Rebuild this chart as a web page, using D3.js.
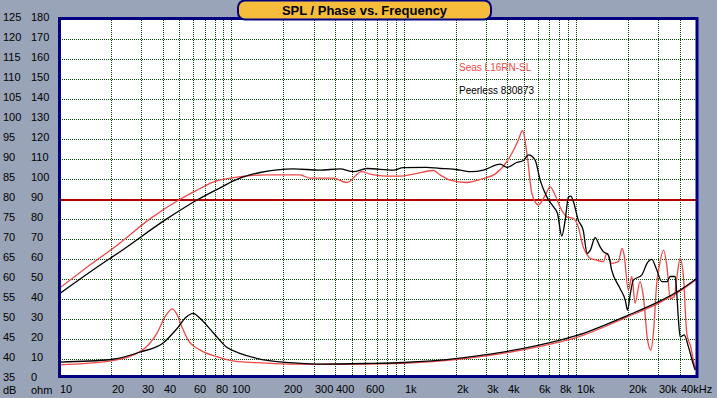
<!DOCTYPE html>
<html>
<head>
<meta charset="utf-8">
<script src="https://cdn.jsdelivr.net/npm/d3@7"></script>
<style>
  html, body { margin: 0; padding: 0; background: #9aa4b9; }
  svg { display: block; font-family: "Liberation Sans", Arial, sans-serif; }
</style>
</head>
<body>
<svg id="chart"></svg>
<script>
const width = 717;
const height = 398;

// left axis labels (dB and ohm share the same rows)
const dbTicks = [125, 120, 115, 110, 105, 100, 95, 90, 85, 80, 75, 70, 65, 60, 55, 50, 45, 40, 35];
const ohmTicks = [180, 170, 160, 150, 140, 130, 120, 110, 100, 90, 80, 70, 60, 50, 40, 30, 20, 10, 0];
const dbGrid = [120, 115, 110, 105, 100, 95, 90, 85, 75, 70, 65, 60, 55, 50, 45, 40];
const refDb = 80;

// bottom axis
const freqGrid = [20, 30, 40, 50, 60, 70, 80, 90, 100, 200, 300, 400, 500, 600, 700, 800, 900,
    1000, 2000, 3000, 4000, 5000, 6000, 7000, 8000, 9000, 10000, 20000, 30000, 40000];
const freqTicks = [10, 20, 30, 40, 60, 80, 100, 200, 300, 400, 600, 1000, 2000, 3000, 4000, 6000, 8000, 10000, 20000, 30000, 40000];
const freqNames = ["10", "20", "30", "40", "60", "80", "100", "200", "300", "400", "600", "1k", "2k", "3k", "4k", "6k", "8k", "10k", "20k", "30k", "40kHz"];

const seriesNames = ["Seas L16RN-SL", "Peerless 830873"];

// SPL, Seas (red)
const seasSplF = [10, 14.2, 22.6, 33.7, 50.4, 65.8, 75.2, 102.7, 160.5, 250, 286, 391, 467, 571, 638, 798, 953, 1137, 1487, 1626, 1857,
    2320, 2900, 3390, 3970, 4630, 4890, 5220, 5540, 6050, 6620, 7080, 7570, 8090, 8850, 9660, 10300, 11000, 11600, 12100, 12600,
    14400, 15100, 16100, 17600, 18500, 19000, 20100, 21100, 22000, 23500, 24600, 26000, 27200, 28100, 29400, 30500, 32200,
    33700, 35200, 37100, 38400, 40200, 42000, 43900, 46300, 48400, 49900];
const seasSpl = [57.7, 62.7, 69.1, 75.1, 80, 82.7, 84, 85.4, 86.1, 86.1, 85.3, 85.3, 84.2, 86.9, 86.3, 85.8, 85.8, 86.3, 87.2, 86.1, 84.8,
    84.2, 85.2, 86.3, 89.4, 94.8, 97.2, 90.6, 81.5, 78.6, 81, 83.1, 81, 78, 75.6, 75.2, 73.1, 68.1, 66.1, 65.2, 65,
    64.4, 66.5, 64, 64.4, 67.7, 66.1, 57.3, 60.7, 54, 59.4, 55.6, 44.8, 42.3, 46.5, 59, 63.6, 67.3,
    63.1, 55.2, 55.6, 60.2, 65.2, 60.7, 46.5, 43.1, 39, 37.3];

// SPL, Peerless (black)
const peerSplF = [10, 16.2, 22.6, 42.2, 64.3, 89.9, 102.7, 128, 147, 229, 327, 427, 511, 611, 871, 995, 1361, 1626, 1857,
    2120, 2480, 2900, 3630, 3970, 4530, 4950, 5290, 5790, 6190, 6770, 7400, 7800, 8270, 8650, 9040, 9330, 9660,
    10300, 11000, 11600, 12100, 12900, 13800, 14400, 15400, 16100, 18000, 19300, 19900, 20600, 21500, 24100, 25800,
    27500, 29200, 31500, 33700, 35200, 37600, 38400, 39300, 40200, 42400, 44900, 48000, 49100];
const peerSpl = [56.3, 62.7, 66.9, 75.1, 80, 83.3, 84.6, 86.1, 86.7, 87.6, 87.3, 87.6, 86.9, 87.7, 87.3, 87.9, 88, 87.7, 87.6,
    87.3, 86.9, 87.3, 88.8, 88, 89.2, 89.7, 91.1, 89.8, 84.8, 80.6, 78.1, 76.5, 70.8, 74.8, 80.6, 80.8, 79.4,
    74.8, 72.3, 66.5, 67.3, 70.4, 68.1, 66.9, 66.1, 62.3, 57.7, 54.8, 52.3, 56.1, 59.8, 61.1, 64,
    65, 62.7, 59.4, 59.4, 60.7, 60.7, 56.5, 49.8, 45.6, 46.1, 43.1, 38.6, 37.3];

// impedance, ohm
const seasZF = [10, 20, 30, 37, 41.3, 45.4, 48, 51.6, 56, 65.7, 82, 102, 140, 219, 400, 1000, 2000, 3000, 6000, 10000, 20000, 30000, 40000, 50000];
const seasZ = [7.2, 9.2, 14.2, 23, 31.3, 35.2, 33, 26.3, 19.7, 14.7, 11.3, 9.2, 8.3, 7.6, 7.5, 8, 9.8, 11.7, 16.2, 20.8, 31.3, 38, 44, 50];
const peerZF = [10, 20, 30, 40, 48, 55, 60, 65.7, 79, 94, 112, 140, 219, 312, 600, 1000, 2000, 3000, 4000, 6000, 8000, 10000, 20000, 30000, 40000, 50000];
const peerZ = [8.6, 9.9, 13.8, 18, 25, 31.3, 33, 30.5, 23, 16, 13, 10.5, 8.3, 7.6, 7.9, 8.4, 10.3, 12.3, 14, 17, 19.5, 21.8, 32, 38.7, 44.5, 50.3];

const colors = { seas: '#f04848', peer: '#000000', grid: '#004d00' };

const svg = d3.select('#chart')
    .attr('width', width)
    .attr('height', height);

const x = d3.scaleLog().domain([10, 50000]).range([59, 696.5]);
const yDb = d3.scaleLinear().domain([35, 125]).range([379.3, 19.3]);
const yOhm = d3.scaleLinear().domain([0, 180]).range([379.3, 19.3]);

// dot patterns for the grid (1px on, 1px off)
const defs = svg.append('defs');
const hDots = defs.append('pattern').attr('id', 'hdots')
    .attr('patternUnits', 'userSpaceOnUse').attr('width', 2).attr('height', 1);
hDots.append('rect').attr('width', 1).attr('height', 1).attr('fill', colors.grid);
const vDots = defs.append('pattern').attr('id', 'vdots')
    .attr('patternUnits', 'userSpaceOnUse').attr('width', 1).attr('height', 2);
vDots.append('rect').attr('width', 1).attr('height', 1).attr('fill', colors.grid);

// plot background
svg.append('rect')
    .attr('x', 59).attr('y', 18)
    .attr('width', 638).attr('height', 359)
    .attr('fill', '#fff');

const grid = svg.append('g').attr('shape-rendering', 'crispEdges');

grid.selectAll('.h')
    .data(dbGrid)
    .enter().append('rect')
    .attr('x', 61).attr('width', 635)
    .attr('y', d => Math.floor(yDb(d)))
    .attr('height', 1)
    .attr('fill', 'url(#hdots)');

grid.selectAll('.v')
    .data(freqGrid)
    .enter().append('rect')
    .attr('x', d => Math.round(x(d)))
    .attr('width', 1)
    .attr('y', 20).attr('height', 356)
    .attr('fill', 'url(#vdots)');

// reference line at 80 dB
svg.append('rect')
    .attr('x', 61).attr('width', 635)
    .attr('y', Math.floor(yDb(refDb)))
    .attr('height', 2)
    .attr('fill', '#b00000');

const plot = svg.append('g');
svg.append('clipPath').attr('id', 'clip')
    .append('rect').attr('x', 60).attr('y', 19).attr('width', 636).attr('height', 357);
plot.attr('clip-path', 'url(#clip)');

const pairs = (fs, vs) => fs.map((f, i) => [f, vs[i]]);
const lineDb = d3.line().x(d => x(d[0])).y(d => yDb(d[1])).curve(d3.curveMonotoneX);
const lineOhm = d3.line().x(d => x(d[0])).y(d => yOhm(d[1])).curve(d3.curveMonotoneX);

const curves = [
    { d: lineOhm(pairs(seasZF, seasZ)), c: colors.seas },
    { d: lineDb(pairs(seasSplF, seasSpl)), c: colors.seas },
    { d: lineOhm(pairs(peerZF, peerZ)), c: colors.peer },
    { d: lineDb(pairs(peerSplF, peerSpl)), c: colors.peer }
];

plot.selectAll('path')
    .data(curves)
    .enter().append('path')
    .attr('d', d => d.d)
    .attr('fill', 'none')
    .attr('stroke', d => d.c)
    .attr('stroke-width', 1.3)
    .attr('stroke-linejoin', 'round');

// frame
svg.append('rect')
    .attr('x', 59.5).attr('y', 18.5)
    .attr('width', 637.5).attr('height', 358)
    .attr('fill', 'none')
    .attr('stroke', '#000080')
    .attr('stroke-width', 3);

// left labels
const labels = svg.append('g').attr('font-size', 11).attr('fill', '#000');
labels.selectAll('.db')
    .data(dbTicks)
    .enter().append('text')
    .attr('x', 3)
    .attr('y', d => yDb(d) - 2.7)
    .attr('dominant-baseline', 'central')
    .text(d => d);
labels.selectAll('.ohm')
    .data(ohmTicks)
    .enter().append('text')
    .attr('x', 31)
    .attr('y', d => yOhm(d) - 2.7)
    .attr('dominant-baseline', 'central')
    .text(d => d);

labels.append('text').attr('x', 3).attr('y', 390).attr('dominant-baseline', 'central').text('dB');
labels.append('text').attr('x', 31).attr('y', 390).attr('dominant-baseline', 'central').text('ohm');

labels.selectAll('.f')
    .data(freqTicks)
    .enter().append('text')
    .attr('x', d => Math.round(x(d)) + 1)
    .attr('y', 389)
    .attr('dominant-baseline', 'central')
    .text((d, i) => freqNames[i]);

// legend
svg.append('g').attr('font-size', 10)
    .selectAll('text')
    .data(seriesNames)
    .enter().append('text')
    .attr('x', 459)
    .attr('y', (d, i) => 67 + i * 23)
    .attr('dominant-baseline', 'central')
    .attr('fill', (d, i) => i === 0 ? colors.seas : colors.peer)
    .text(d => d);

// title box
svg.append('rect')
    .attr('x', 238).attr('y', 0.5)
    .attr('width', 253).attr('height', 19)
    .attr('rx', 7)
    .attr('fill', '#f6bd3c')
    .attr('stroke', '#000080')
    .attr('stroke-width', 2);
svg.append('text')
    .attr('x', 364.5).attr('y', 10.5)
    .attr('text-anchor', 'middle')
    .attr('dominant-baseline', 'central')
    .attr('font-size', 13)
    .attr('font-weight', 'bold')
    .text('SPL / Phase vs. Frequency');
</script>
</body>
</html>
